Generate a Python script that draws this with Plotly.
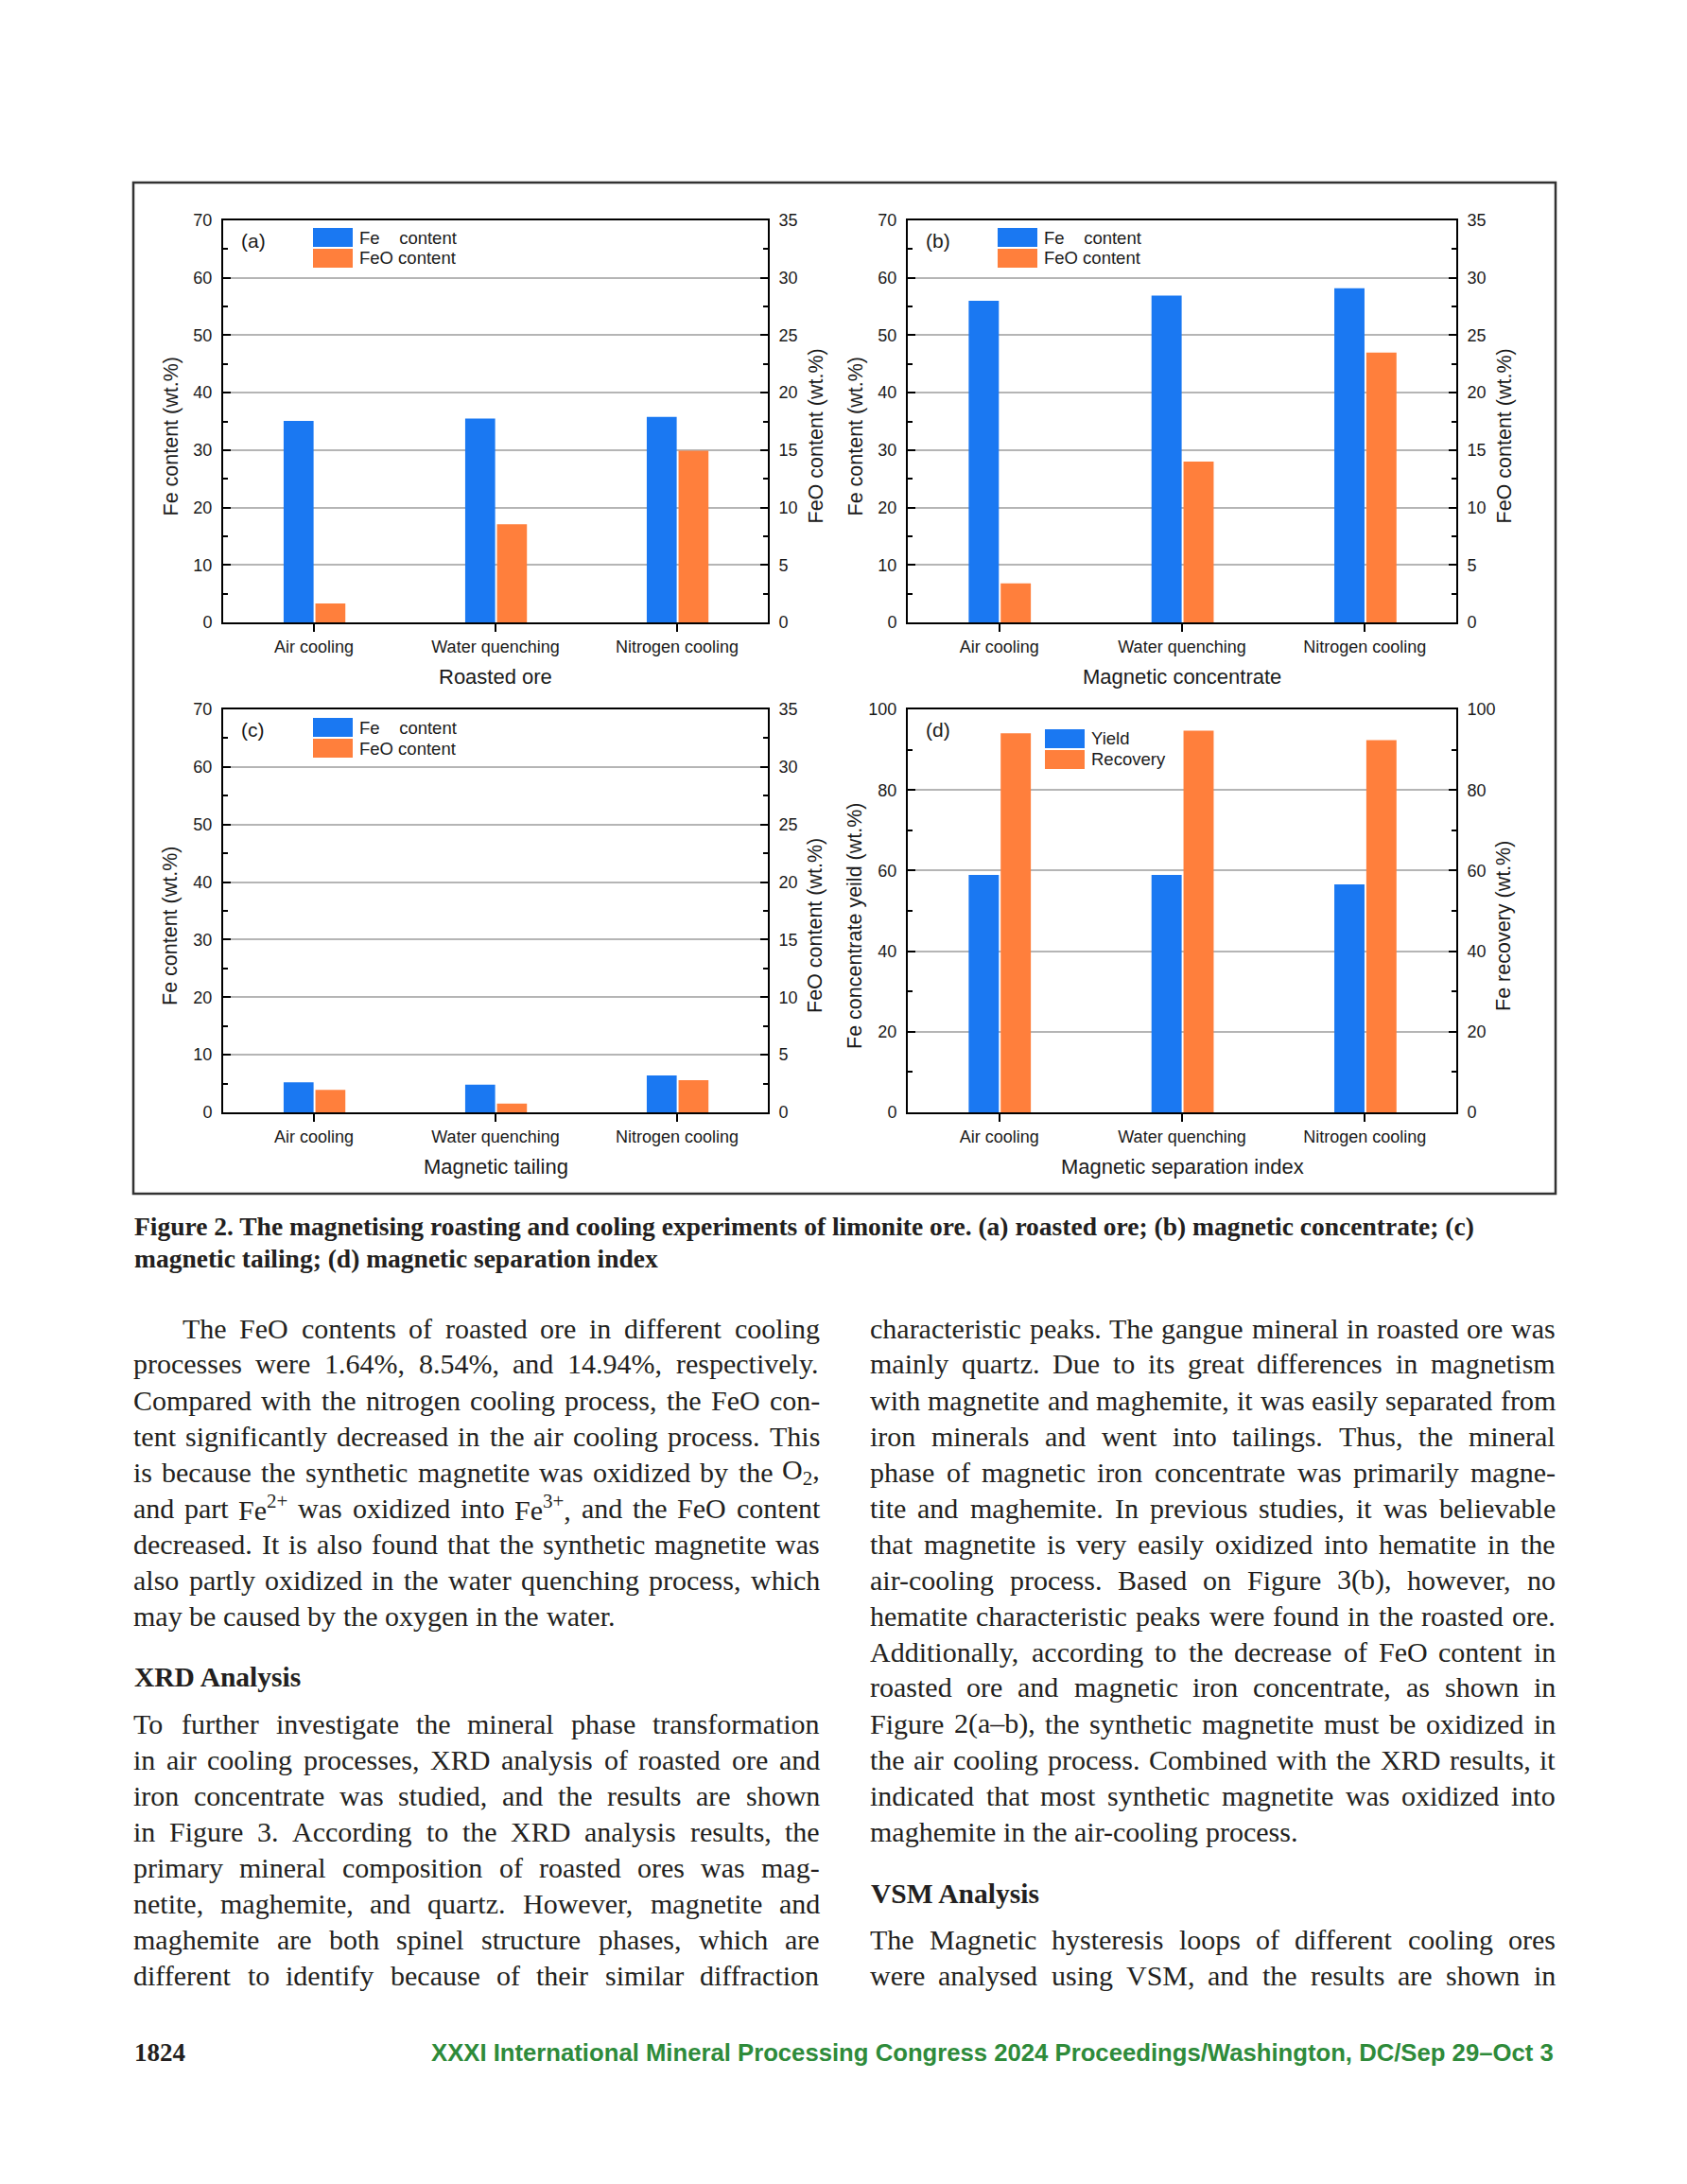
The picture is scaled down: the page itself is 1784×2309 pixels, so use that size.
import re
import plotly.graph_objects as go

W, H = 1784, 2309

# ---------------- data ----------------
categories = ["Air cooling", "Water quenching", "Nitrogen cooling"]
fe_roasted = [35.1, 35.5, 35.8]
feo_roasted = [1.64, 8.54, 14.94]
fe_concentrate = [56.0, 56.9, 58.2]
feo_concentrate = [3.4, 14.0, 23.5]
fe_tailing = [5.2, 4.8, 6.4]
feo_tailing = [1.95, 0.75, 2.8]
yield_index = [58.9, 58.9, 56.6]
recovery_index = [94.1, 94.7, 92.4]

left_ticks_content = [0, 10, 20, 30, 40, 50, 60, 70]
right_ticks_content = [0, 5, 10, 15, 20, 25, 30, 35]
ticks_index = [0, 20, 40, 60, 80, 100]

BLUE = "#1A78F2"
ORANGE = "#FF7F3C"
GRID = "#b5b5b5"
SANS = "Liberation Sans, Arial, sans-serif"
SERIF = "Liberation Serif, Times New Roman, serif"
TXT = "#231F20"


def px(x):
    return x / W


def py(y):
    return 1 - y / H


panels = [
    dict(box=(236, 812, 233, 658), label="(a)", left=fe_roasted, right=feo_roasted,
         names=("Fe\u00a0\u00a0\u00a0 content", "FeO content"),
         lticks=left_ticks_content, rticks=right_ticks_content, lminor=5, rminor=2.5,
         ltitle="Fe content (wt.%)", rtitle="FeO content (wt.%)", xtitle="Roasted ore",
         leg=(331, 241)),
    dict(box=(960, 1540, 233, 658), label="(b)", left=fe_concentrate, right=feo_concentrate,
         names=("Fe\u00a0\u00a0\u00a0 content", "FeO content"),
         lticks=left_ticks_content, rticks=right_ticks_content, lminor=5, rminor=2.5,
         ltitle="Fe content (wt.%)", rtitle="FeO content (wt.%)", xtitle="Magnetic concentrate",
         leg=(1055, 241)),
    dict(box=(236, 812, 750, 1176), label="(c)", left=fe_tailing, right=feo_tailing,
         names=("Fe\u00a0\u00a0\u00a0 content", "FeO content"),
         lticks=left_ticks_content, rticks=right_ticks_content, lminor=5, rminor=2.5,
         ltitle="Fe content (wt.%)", rtitle="FeO content (wt.%)", xtitle="Magnetic tailing",
         leg=(331, 759)),
    dict(box=(960, 1540, 750, 1176), label="(d)", left=yield_index, right=recovery_index,
         names=("Yield", "Recovery"),
         lticks=ticks_index, rticks=ticks_index, lminor=10, rminor=10,
         ltitle="Fe concentrate yeild (wt.%)", rtitle="Fe recovery (wt.%)",
         xtitle="Magnetic separation index",
         leg=(1105, 771)),
]

fig = go.Figure()
layout = {}
annotations = []
shapes = []

for k, p in enumerate(panels):
    x0, x1, y0, y1 = p["box"]
    xid = "x" if k == 0 else f"x{k + 1}"
    lid = 2 * k + 1
    rid = 2 * k + 2
    ly = "y" if lid == 1 else f"y{lid}"
    ry = f"y{rid}"
    xkey = "xaxis" if k == 0 else f"xaxis{k + 1}"
    lkey = "yaxis" if lid == 1 else f"yaxis{lid}"
    rkey = f"yaxis{rid}"

    fig.add_trace(go.Bar(x=categories, y=p["left"], name=p["names"][0], xaxis=xid, yaxis=ly,
                         marker=dict(color=BLUE, line=dict(width=0)), width=0.165, offset=-0.167,
                         showlegend=False))
    fig.add_trace(go.Bar(x=categories, y=p["right"], name=p["names"][1], xaxis=xid, yaxis=ry,
                         marker=dict(color=ORANGE, line=dict(width=0)), width=0.165, offset=0.008,
                         showlegend=False))

    layout[xkey] = dict(domain=[px(x0), px(x1)], anchor=ly, type="category",
                        categoryorder="array", categoryarray=categories, range=[-0.5, 2.5],
                        ticks="outside", ticklen=8, tickwidth=2, tickcolor="black",
                        showline=True, linewidth=2, linecolor="black", mirror=True,
                        showgrid=False, zeroline=False, automargin=False,
                        tickfont=dict(family=SANS, size=18, color="#1a1a1a"))
    lt = p["lticks"]
    rt = p["rticks"]
    layout[lkey] = dict(domain=[py(y1), py(y0)], anchor=xid, range=[lt[0], lt[-1]],
                        tickmode="array", tickvals=lt, ticktext=[str(v) for v in lt],
                        ticks="inside", ticklen=8, tickwidth=1.5, tickcolor="black",
                        showline=True, linewidth=2, linecolor="black",
                        showgrid=True, gridcolor=GRID, gridwidth=1.5, zeroline=False,
                        minor=dict(ticks="inside", ticklen=5, tickwidth=1.5, tickcolor="black",
                                   dtick=p["lminor"], tick0=0, showgrid=False),
                        ticklabelstandoff=6, automargin=False,
                        tickfont=dict(family=SANS, size=18, color="#1a1a1a"))
    layout[rkey] = dict(overlaying=ly, side="right", anchor=xid, range=[rt[0], rt[-1]],
                        tickmode="array", tickvals=rt, ticktext=[str(v) for v in rt],
                        ticks="inside", ticklen=8, tickwidth=1.5, tickcolor="black",
                        showline=True, linewidth=2, linecolor="black",
                        showgrid=False, zeroline=False,
                        minor=dict(ticks="inside", ticklen=5, tickwidth=1.5, tickcolor="black",
                                   dtick=p["rminor"], tick0=0, showgrid=False),
                        ticklabelstandoff=6, automargin=False,
                        tickfont=dict(family=SANS, size=18, color="#1a1a1a"))

    # axis titles
    ycen = (y0 + y1) / 2 + 16
    annotations.append(dict(text=p["ltitle"], x=px(x0 - 56), y=py(ycen), xref="paper", yref="paper",
                            textangle=-90, showarrow=False, xanchor="center", yanchor="middle",
                            font=dict(family=SANS, size=21.5, color="#1a1a1a")))
    annotations.append(dict(text=p["rtitle"], x=px(x1 + 50), y=py(ycen), xref="paper", yref="paper",
                            textangle=-90, showarrow=False, xanchor="center", yanchor="middle",
                            font=dict(family=SANS, size=21.5, color="#1a1a1a")))
    annotations.append(dict(text=p["xtitle"], x=px((x0 + x1) / 2), y=py(y1 + 57), xref="paper",
                            yref="paper", showarrow=False, xanchor="center", yanchor="middle",
                            font=dict(family=SANS, size=22, color="#1a1a1a")))
    # panel label
    annotations.append(dict(text=p["label"], x=px(x0 + 17), y=py(y0 + 22), xref="paper", yref="paper",
                            showarrow=False, xanchor="left", yanchor="middle",
                            font=dict(family=SANS, size=21, color="#1a1a1a")))
    # legend
    lx, ly0 = p["leg"]
    for j, (nm, col) in enumerate(zip(p["names"], (BLUE, ORANGE))):
        sy = ly0 + j * 22
        shapes.append(dict(type="rect", xref="paper", yref="paper", x0=px(lx), x1=px(lx + 42),
                           y0=py(sy + 20), y1=py(sy), fillcolor=col, line=dict(width=0)))
        annotations.append(dict(text=nm, x=px(lx + 47), y=py(sy + 10), xref="paper", yref="paper",
                                showarrow=False, xanchor="left", yanchor="middle",
                                font=dict(family=SANS, size=18.5, color="#1a1a1a")))

# figure frame
shapes.append(dict(type="rect", xref="paper", yref="paper", x0=px(141), x1=px(1645),
                   y0=py(1262), y1=py(193), line=dict(color="#333333", width=2.5)))

# ---------------- page text ----------------
TIMES = dict(zip("abcdefghijklmnopqrstuvwxyz",
                 [444, 500, 444, 500, 444, 333, 500, 500, 278, 278, 500, 278, 778, 500, 500, 500,
                  500, 333, 389, 278, 500, 500, 722, 500, 500, 444]))
TIMES.update(dict(zip("ABCDEFGHIJKLMNOPQRSTUVWXYZ",
                      [722, 667, 667, 722, 611, 556, 722, 722, 333, 389, 722, 611, 889, 722, 722, 556,
                       722, 667, 556, 611, 722, 722, 944, 722, 722, 611])))
TIMES.update({d: 500 for d in "0123456789"})
TIMES.update({" ": 250, ".": 250, ",": 250, "-": 333, "(": 333, ")": 333, "%": 833, ":": 278,
              ";": 278, "\u2013": 500, "+": 564, "/": 278})

BODY = 30


def text_width(s, size):
    total = 0
    scale = 1.0
    for part in re.split(r"(</?su[bp]>)", s):
        if part in ("<sup>", "<sub>"):
            scale = 0.7
            continue
        if part in ("</sup>", "</sub>"):
            scale = 1.0
            continue
        for ch in part:
            total += TIMES.get(ch, 500) * scale
    return total * size / 1000


def add_line(line, left, right, y, justify, indent=0):
    words = line.split(" ")
    widths = [text_width(w, BODY) for w in words]
    avail = right - left - indent
    normal = 250 * BODY / 1000
    if justify and len(words) > 1:
        gap = (avail - sum(widths)) / (len(words) - 1)
        gap = max(gap, normal * 0.6)
    else:
        gap = normal
    x = left + indent
    for w, wd in zip(words, widths):
        annotations.append(dict(text=w, x=px(x), y=py(y), xref="paper", yref="paper",
                                showarrow=False, xanchor="left", yanchor="middle", borderpad=0,
                                font=dict(family=SERIF, size=BODY, color=TXT)))
        x += wd + gap


def add_paragraph(lines, left, right, y_start, last_justified, indent=0):
    for i, ln in enumerate(lines):
        is_last = i == len(lines) - 1
        add_line(ln, left, right, y_start + 38 * i, justify=(not is_last) or last_justified,
                 indent=indent if i == 0 else 0)


left_p1 = [
    "The FeO contents of roasted ore in different cooling",
    "processes were 1.64%, 8.54%, and 14.94%, respectively.",
    "Compared with the nitrogen cooling process, the FeO con-",
    "tent significantly decreased in the air cooling process. This",
    "is because the synthetic magnetite was oxidized by the O<sub>2</sub>,",
    "and part Fe<sup>2+</sup> was oxidized into Fe<sup>3+</sup>, and the FeO content",
    "decreased. It is also found that the synthetic magnetite was",
    "also partly oxidized in the water quenching process, which",
    "may be caused by the oxygen in the water.",
]
left_p2 = [
    "To further investigate the mineral phase transformation",
    "in air cooling processes, XRD analysis of roasted ore and",
    "iron concentrate was studied, and the results are shown",
    "in Figure 3. According to the XRD analysis results, the",
    "primary mineral composition of roasted ores was mag-",
    "netite, maghemite, and quartz. However, magnetite and",
    "maghemite are both spinel structure phases, which are",
    "different to identify because of their similar diffraction",
]
right_p1 = [
    "characteristic peaks. The gangue mineral in roasted ore was",
    "mainly quartz. Due to its great differences in magnetism",
    "with magnetite and maghemite, it was easily separated from",
    "iron minerals and went into tailings. Thus, the mineral",
    "phase of magnetic iron concentrate was primarily magne-",
    "tite and maghemite. In previous studies, it was believable",
    "that magnetite is very easily oxidized into hematite in the",
    "air-cooling process. Based on Figure 3(b), however, no",
    "hematite characteristic peaks were found in the roasted ore.",
    "Additionally, according to the decrease of FeO content in",
    "roasted ore and magnetic iron concentrate, as shown in",
    "Figure 2(a\u2013b), the synthetic magnetite must be oxidized in",
    "the air cooling process. Combined with the XRD results, it",
    "indicated that most synthetic magnetite was oxidized into",
    "maghemite in the air-cooling process.",
]
right_p2 = [
    "The Magnetic hysteresis loops of different cooling ores",
    "were analysed using VSM, and the results are shown in",
]

LC = (140, 866)
RC = (919, 1644)
add_paragraph(left_p1, LC[0], LC[1], 1404, False, indent=52)
add_paragraph(left_p2, LC[0], LC[1], 1822, True)
add_paragraph(right_p1, RC[0], RC[1], 1404, False)
add_paragraph(right_p2, RC[0], RC[1], 2050, True)

headings = [("XRD Analysis", LC[0], 1773), ("VSM Analysis", RC[0], 2002)]
for txt, hx, hy in headings:
    annotations.append(dict(text="<b>" + txt + "</b>", x=px(hx), y=py(hy), xref="paper", yref="paper",
                            showarrow=False, xanchor="left", yanchor="middle",
                            font=dict(family=SERIF, size=29.5, color=TXT)))

caption = [
    "Figure 2. The magnetising roasting and cooling experiments of limonite ore. (a) roasted ore; (b) magnetic concentrate; (c)",
    "magnetic tailing; (d) magnetic separation index",
]
for i, c in enumerate(caption):
    annotations.append(dict(text="<b>" + c + "</b>", x=px(140), y=py(1296 + 34 * i), xref="paper",
                            yref="paper", showarrow=False, xanchor="left", yanchor="middle",
                            font=dict(family=SERIF, size=27.5, color=TXT)))

annotations.append(dict(text="<b>1824</b>", x=px(140), y=py(2170), xref="paper", yref="paper",
                        showarrow=False, xanchor="left", yanchor="middle",
                        font=dict(family=SERIF, size=27, color=TXT)))
annotations.append(dict(text="<b>XXXI International Mineral Processing Congress 2024 Proceedings/Washington, DC/Sep 29\u2013Oct 3</b>",
                        x=px(1645), y=py(2170), xref="paper", yref="paper",
                        showarrow=False, xanchor="right", yanchor="middle",
                        font=dict(family=SANS, size=25.7, color="#2E8B3A")))

fig.update_layout(**layout)
fig.update_layout(width=W, height=H, margin=dict(l=0, r=0, t=0, b=0, pad=0),
                  paper_bgcolor="white", plot_bgcolor="white", barmode="overlay",
                  showlegend=False, annotations=annotations, shapes=shapes,
                  font=dict(family=SANS, color="#1a1a1a"))

fig.write_html("out.html", config={"displayModeBar": False},
               post_script="document.body.style.margin='0';document.body.style.overflow='hidden';")
